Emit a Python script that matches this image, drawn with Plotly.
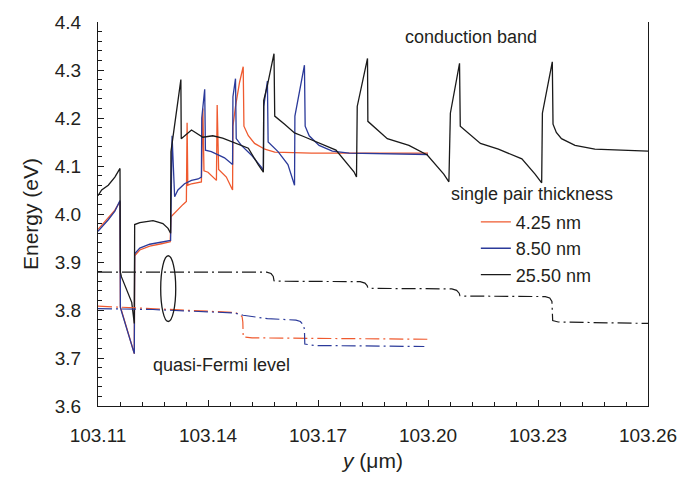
import plotly.graph_objects as go

# ---------------- data ----------------
cb_red_x = [103.1100, 103.1128, 103.1146, 103.1160, 103.1161, 103.1199, 103.1200, 103.1214, 103.1241, 103.1273,
            103.1297, 103.1299, 103.1318, 103.1332, 103.1341, 103.1343, 103.1345, 103.1355, 103.1382, 103.1386,
            103.1389, 103.1400, 103.1423, 103.1425, 103.1429, 103.1450, 103.1467, 103.1468, 103.1475, 103.1486,
            103.1496, 103.1498, 103.1510, 103.1527, 103.1555, 103.1582, 103.1682, 103.2000]
cb_red_e = [3.968, 3.993, 4.008, 4.026, 3.807, 3.709, 3.913, 3.925, 3.933, 3.938,
            3.942, 3.994, 4.010, 4.020, 4.026, 4.190, 4.060, 4.063, 4.067, 4.220,
            4.090, 4.087, 4.070, 4.227, 4.093, 4.077, 4.050, 4.183, 4.224, 4.274,
            4.307, 4.183, 4.163, 4.147, 4.135, 4.129, 4.127, 4.127]

cb_blue_x = [103.1100, 103.1128, 103.1146, 103.1160, 103.1161, 103.1199, 103.1200, 103.1214, 103.1241, 103.1273,
             103.1298, 103.1302, 103.1309, 103.1318, 103.1336, 103.1355, 103.1373, 103.1382, 103.1383, 103.1391,
             103.1393, 103.1409, 103.1427, 103.1445, 103.1467, 103.1468, 103.1475, 103.1477, 103.1491, 103.1518,
             103.1546, 103.1551, 103.1552, 103.1562, 103.1564, 103.1591, 103.1618, 103.1636, 103.1637, 103.1663,
             103.1665, 103.1676, 103.1703, 103.1739, 103.1785, 103.2000]
cb_blue_e = [3.964, 3.988, 4.006, 4.028, 3.805, 3.709, 3.917, 3.929, 3.937, 3.942,
             3.945, 4.163, 4.036, 4.050, 4.063, 4.070, 4.073, 4.077, 4.200, 4.260,
             4.133, 4.130, 4.123, 4.117, 4.103, 4.244, 4.282, 4.157, 4.143, 4.123,
             4.097, 4.090, 4.224, 4.277, 4.150, 4.130, 4.103, 4.060, 4.204, 4.310,
             4.183, 4.163, 4.143, 4.131, 4.127, 4.124]

cb_black_x = [103.1100, 103.1110, 103.1128, 103.1146, 103.1160, 103.1161, 103.1164, 103.1182, 103.1192, 103.1199,
              103.1200, 103.1214, 103.1228, 103.1241, 103.1250, 103.1264, 103.1277, 103.1291, 103.1298, 103.1299,
              103.1309, 103.1326, 103.1327, 103.1355, 103.1386, 103.1413, 103.1440, 103.1486, 103.1510, 103.1537,
              103.1551, 103.1552, 103.1562, 103.1580, 103.1582, 103.1609, 103.1636, 103.1659, 103.1703, 103.1749,
              103.1798, 103.1805, 103.1807, 103.1835, 103.1836, 103.1889, 103.1948, 103.1998, 103.2043, 103.2057,
              103.2061, 103.2086, 103.2088, 103.2143, 103.2192, 103.2256, 103.2292, 103.2310, 103.2312, 103.2339,
              103.2341, 103.2350, 103.2364, 103.2401, 103.2455, 103.2600]
cb_black_e = [4.038, 4.050, 4.060, 4.077, 4.095, 3.879, 3.869, 3.836, 3.816, 3.772,
              3.978, 3.982, 3.984, 3.985, 3.986, 3.983, 3.980, 3.970, 3.960, 4.130,
              4.190, 4.280, 4.157, 4.175, 4.160, 4.163, 4.158, 4.145, 4.137, 4.103,
              4.087, 4.237, 4.268, 4.334, 4.204, 4.187, 4.169, 4.162, 4.148, 4.133,
              4.088, 4.077, 4.224, 4.324, 4.193, 4.157, 4.143, 4.123, 4.083, 4.067,
              4.210, 4.314, 4.183, 4.147, 4.135, 4.115, 4.083, 4.065, 4.210, 4.317,
              4.187, 4.170, 4.157, 4.143, 4.135, 4.131]

qf_red_x = [103.1100, 103.1250, 103.1400, 103.1470, 103.1485, 103.1493, 103.1495, 103.1496, 103.1520, 103.2000]
qf_red_e = [3.808, 3.803, 3.798, 3.795, 3.792, 3.786, 3.775, 3.744, 3.742, 3.739]

qf_blue_x = [103.1100, 103.1250, 103.1470, 103.1496, 103.1562, 103.1640, 103.1652, 103.1660, 103.1663, 103.1664,
             103.1690, 103.1990]
qf_blue_e = [3.803, 3.801, 3.794, 3.789, 3.782, 3.779, 3.776, 3.769, 3.760, 3.729,
             3.726, 3.724]

qf_black_x = [103.1100, 103.1560, 103.1572, 103.1578, 103.1580, 103.1590, 103.1815, 103.1828, 103.1834, 103.1836,
              103.1850, 103.2065, 103.2078, 103.2085, 103.2087, 103.2100, 103.2320, 103.2332, 103.2338, 103.2340,
              103.2355, 103.2600]
qf_black_e = [3.879, 3.879, 3.876, 3.870, 3.861, 3.860, 3.859, 3.856, 3.851, 3.846,
              3.845, 3.844, 3.841, 3.835, 3.830, 3.829, 3.828, 3.825, 3.818, 3.778,
              3.775, 3.772]

series_names = ["4.25 nm", "8.50 nm", "25.50 nm"]
x_tick_vals = [103.11, 103.14, 103.17, 103.20, 103.23, 103.26]
x_tick_text = ["103.11", "103.14", "103.17", "103.20", "103.23", "103.26"]
y_tick_vals = [3.6, 3.7, 3.8, 3.9, 4.0, 4.1, 4.2, 4.3, 4.4]
y_tick_text = ["3.6", "3.7", "3.8", "3.9", "4.0", "4.1", "4.2", "4.3", "4.4"]

# ---------------- style ----------------
RED = "#ef5a2f"
BLUE = "#2b3a9a"
BLACK = "#1a1a1a"
FONT = "Liberation Sans, Arial, sans-serif"
TXT = "#231f20"
DASHDOT = "14px,4px,2px,4px"

fig = go.Figure()

for x, e, c, n in [(cb_red_x, cb_red_e, RED, series_names[0]),
                   (cb_blue_x, cb_blue_e, BLUE, series_names[1]),
                   (cb_black_x, cb_black_e, BLACK, series_names[2])]:
    fig.add_trace(go.Scatter(x=x, y=e, mode="lines", name=n,
                             line=dict(color=c, width=1.3), showlegend=True))

for x, e, c in [(qf_red_x, qf_red_e, RED), (qf_blue_x, qf_blue_e, BLUE), (qf_black_x, qf_black_e, BLACK)]:
    fig.add_trace(go.Scatter(x=x, y=e, mode="lines", showlegend=False,
                             line=dict(color=c, width=1.2, dash=DASHDOT)))

fig.add_shape(type="circle", xref="x", yref="y",
              x0=103.1271, x1=103.1312, y0=3.776, y1=3.913,
              line=dict(color=BLACK, width=1.3))

ann_font = dict(size=18, family=FONT, color=TXT)
fig.add_annotation(text="conduction band", xref="paper", yref="paper", x=0.6775, y=0.96,
                   xanchor="center", yanchor="middle", showarrow=False, font=ann_font)
fig.add_annotation(text="quasi-Fermi level", xref="paper", yref="paper", x=0.2246, y=0.108,
                   xanchor="center", yanchor="middle", showarrow=False, font=ann_font)
fig.add_annotation(text="single pair thickness", xref="paper", yref="paper", x=0.789, y=0.551,
                   xanchor="center", yanchor="middle", showarrow=False, font=ann_font)

fig.update_layout(
    width=689, height=481,
    margin=dict(l=98, r=39, t=12, b=70),
    paper_bgcolor="white", plot_bgcolor="white",
    font=dict(family=FONT, size=19, color=TXT),
    showlegend=True,
    legend=dict(x=0.687, y=0.527, xanchor="left", yanchor="top",
                bgcolor="rgba(0,0,0,0)", borderwidth=0,
                font=dict(size=18, family=FONT, color=TXT),
                itemwidth=30, tracegroupgap=0),
)

fig.update_xaxes(
    range=[103.11, 103.26], tickmode="array", tickvals=x_tick_vals, ticktext=x_tick_text,
    ticks="inside", ticklen=6, tickwidth=1, tickcolor=BLACK,
    minor=dict(dtick=0.006, tick0=103.11, ticks="inside", ticklen=4, tickcolor=BLACK, tickwidth=1),
    showline=True, linecolor=BLACK, linewidth=1.3, mirror=False,
    showgrid=False, zeroline=False,
    tickfont=dict(size=19, family=FONT, color=TXT), ticklabelstandoff=12,
    title=dict(text="<i>y</i> (μm)", font=dict(size=21, family=FONT, color=TXT), standoff=8),
)
fig.update_yaxes(
    range=[3.6, 4.4], tickmode="array", tickvals=y_tick_vals, ticktext=y_tick_text,
    ticks="inside", ticklen=6, tickwidth=1, tickcolor=BLACK,
    minor=dict(dtick=0.02, tick0=3.6, ticks="inside", ticklen=4, tickcolor=BLACK, tickwidth=1),
    showline=True, linecolor=BLACK, linewidth=1.3, mirror=True,
    showgrid=False, zeroline=False,
    tickfont=dict(size=19, family=FONT, color=TXT), ticklabelstandoff=12,
    title=dict(text="Energy (eV)", font=dict(size=21, family=FONT, color=TXT), standoff=10),
)

fig.write_html("out.html")
